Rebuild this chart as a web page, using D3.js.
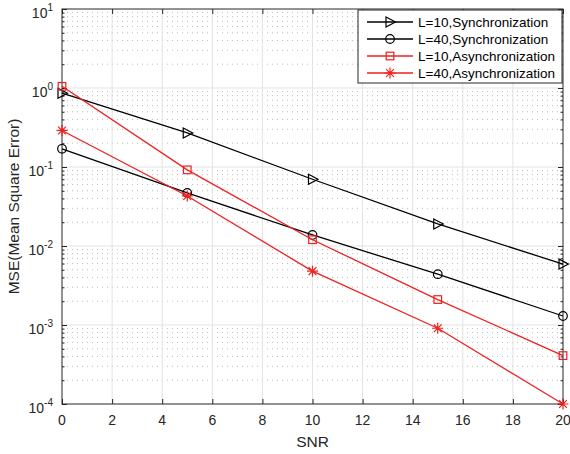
<!DOCTYPE html>
<html>
<head>
<meta charset="utf-8">
<script src="https://cdn.jsdelivr.net/npm/d3@7"></script>
<style>
  body { margin: 0; background: #fff; }
  svg { font-family: "Liberation Sans", Arial, Helvetica, sans-serif; }
</style>
</head>
<body>
<div class="container"></div>
<script>
// data
const snr = [0, 5, 10, 15, 20]
const l10Sync = [0.86, 0.27, 0.070, 0.019, 0.0059]
const l40Sync = [0.17, 0.047, 0.0138, 0.0044, 0.0013]
const l10Async = [1.05, 0.092, 0.012, 0.0021, 0.00041]
const l40Async = [0.29, 0.043, 0.0048, 0.00091, 0.0001]
const seriesNames = ["L=10,Synchronization", "L=40,Synchronization", "L=10,Asynchronization", "L=40,Asynchronization"]
const xTicks = [0, 2, 4, 6, 8, 10, 12, 14, 16, 18, 20]
const yExponents = [-4, -3, -2, -1, 0, 1]

const w = 570
const h = 454
const padL = 62, padR = 563, padT = 9, padB = 404
const axisColor = "#262626"
const red = "#ee2020"

const series = [
    { name: seriesNames[0], values: l10Sync, color: "#000", marker: "tri" },
    { name: seriesNames[1], values: l40Sync, color: "#000", marker: "circle" },
    { name: seriesNames[2], values: l10Async, color: red, marker: "square" },
    { name: seriesNames[3], values: l40Async, color: red, marker: "star" }
]

const xScale = d3.scaleLinear().domain([0, 20]).range([padL, padR])
const yScale = d3.scaleLog().domain([1e-4, 1e1]).range([padB, padT])

const svg = d3.select(".container")
    .append("svg")
    .attr("width", w)
    .attr("height", h)

// minor grid (y, dotted)
let minorVals = []
yExponents.slice(0, -1).forEach(e => {
    for (let k = 2; k <= 9; k++) minorVals.push(k * Math.pow(10, e))
})

svg.append("g")
    .selectAll("line")
    .data(minorVals)
    .enter()
    .append("line")
    .attr("x1", padL).attr("x2", padR)
    .attr("y1", d => yScale(d)).attr("y2", d => yScale(d))
    .attr("stroke", "#bdbdbd")
    .attr("stroke-width", 1)
    .attr("stroke-dasharray", "1 4")

// major grid
svg.append("g")
    .selectAll("line")
    .data(xTicks.slice(1, -1))
    .enter()
    .append("line")
    .attr("x1", d => xScale(d)).attr("x2", d => xScale(d))
    .attr("y1", padT).attr("y2", padB)
    .attr("stroke", "#e3e3e3")

svg.append("g")
    .selectAll("line")
    .data(yExponents.slice(1, -1))
    .enter()
    .append("line")
    .attr("x1", padL).attr("x2", padR)
    .attr("y1", d => yScale(Math.pow(10, d))).attr("y2", d => yScale(Math.pow(10, d)))
    .attr("stroke", "#e3e3e3")

// axes (box with inward ticks)
const xAxis = d3.axisBottom(xScale).tickValues(xTicks).tickSize(-5).tickFormat("")
const xAxisTop = d3.axisTop(xScale).tickValues(xTicks).tickSize(-5).tickFormat("")
const yAxis = d3.axisLeft(yScale).tickValues(yExponents.map(e => Math.pow(10, e))).tickSize(-5).tickFormat("")
const yAxisRight = d3.axisRight(yScale).tickValues(yExponents.map(e => Math.pow(10, e))).tickSize(-5).tickFormat("")
const yMinor = d3.axisLeft(yScale).tickValues(minorVals).tickSize(-2.5).tickFormat("")
const yMinorRight = d3.axisRight(yScale).tickValues(minorVals).tickSize(-2.5).tickFormat("")

const styleAxis = (g) => {
    g.select(".domain").remove()
    g.selectAll("line").attr("stroke", axisColor)
}

svg.append("g").attr("transform", "translate(0," + padB + ")").call(xAxis).call(styleAxis)
svg.append("g").attr("transform", "translate(0," + padT + ")").call(xAxisTop).call(styleAxis)
svg.append("g").attr("transform", "translate(" + padL + ",0)").call(yAxis).call(styleAxis)
svg.append("g").attr("transform", "translate(" + padR + ",0)").call(yAxisRight).call(styleAxis)
svg.append("g").attr("transform", "translate(" + padL + ",0)").call(yMinor).call(styleAxis)
svg.append("g").attr("transform", "translate(" + padR + ",0)").call(yMinorRight).call(styleAxis)

svg.append("rect")
    .attr("x", padL).attr("y", padT)
    .attr("width", padR - padL).attr("height", padB - padT)
    .attr("fill", "none")
    .attr("stroke", axisColor)
    .attr("stroke-width", 1)

// tick labels
svg.append("g")
    .selectAll("text")
    .data(xTicks)
    .enter()
    .append("text")
    .attr("x", d => xScale(d))
    .attr("y", padB + 21)
    .attr("text-anchor", "middle")
    .attr("font-size", "14px")
    .attr("fill", axisColor)
    .text(d => d)

const yLabels = svg.append("g")
    .selectAll("text")
    .data(yExponents)
    .enter()
    .append("text")
    .attr("x", padL - 9)
    .attr("y", d => yScale(Math.pow(10, d)) + 9)
    .attr("text-anchor", "end")
    .attr("font-size", "14px")
    .attr("fill", axisColor)
yLabels.append("tspan").text("10")
yLabels.append("tspan")
    .attr("font-size", "10px")
    .attr("dy", -7)
    .text(d => d < 0 ? "-" + Math.abs(d) : d)

// axis titles
svg.append("text")
    .attr("x", (padL + padR) / 2)
    .attr("y", 447)
    .attr("text-anchor", "middle")
    .attr("font-size", "15.5px")
    .attr("fill", axisColor)
    .text("SNR")

svg.append("text")
    .attr("transform", "rotate(-90)")
    .attr("x", -(padT + padB) / 2)
    .attr("y", 19)
    .attr("text-anchor", "middle")
    .attr("font-size", "15.5px")
    .attr("fill", axisColor)
    .text("MSE(Mean Square Error)")

// markers
const drawMarker = (g, type, color) => {
    if (type === "tri") {
        g.append("path").attr("d", "M-4,-5L5.5,0L-4,5Z")
            .attr("fill", "none").attr("stroke", color).attr("stroke-width", 1.2)
    } else if (type === "circle") {
        g.append("circle").attr("r", 4.3)
            .attr("fill", "none").attr("stroke", color).attr("stroke-width", 1.2)
    } else if (type === "square") {
        g.append("rect").attr("x", -3.8).attr("y", -3.8).attr("width", 7.6).attr("height", 7.6)
            .attr("fill", "none").attr("stroke", color).attr("stroke-width", 1.2)
    } else {
        g.append("path").attr("d", "M0,-5.5V5.5M-5.5,0H5.5M-3.9,-3.9L3.9,3.9M-3.9,3.9L3.9,-3.9")
            .attr("fill", "none").attr("stroke", color).attr("stroke-width", 1.2)
    }
}

const line = d3.line()
    .x((d, i) => xScale(snr[i]))
    .y(d => yScale(d))

series.forEach(s => {
    svg.append("path")
        .datum(s.values)
        .attr("d", line)
        .attr("fill", "none")
        .attr("stroke", s.color)
        .attr("stroke-width", 1.3)
    s.values.forEach((v, i) => {
        const g = svg.append("g").attr("transform", "translate(" + xScale(snr[i]) + "," + yScale(v) + ")")
        drawMarker(g, s.marker, s.color)
    })
})

// legend
const legend = svg.append("g")
legend.append("rect")
    .attr("x", 358).attr("y", 10)
    .attr("width", 204).attr("height", 73)
    .attr("fill", "#fff")
    .attr("stroke", axisColor)
    .attr("stroke-width", 1)

series.forEach((s, i) => {
    const yy = 22 + i * 17
    legend.append("line")
        .attr("x1", 367).attr("x2", 413)
        .attr("y1", yy).attr("y2", yy)
        .attr("stroke", s.color)
        .attr("stroke-width", 1.3)
    drawMarker(legend.append("g").attr("transform", "translate(390," + yy + ")"), s.marker, s.color)
    legend.append("text")
        .attr("x", 418)
        .attr("y", yy + 5)
        .attr("font-size", "13.5px")
        .attr("fill", "#000")
        .text(s.name)
})
</script>
</body>
</html>
